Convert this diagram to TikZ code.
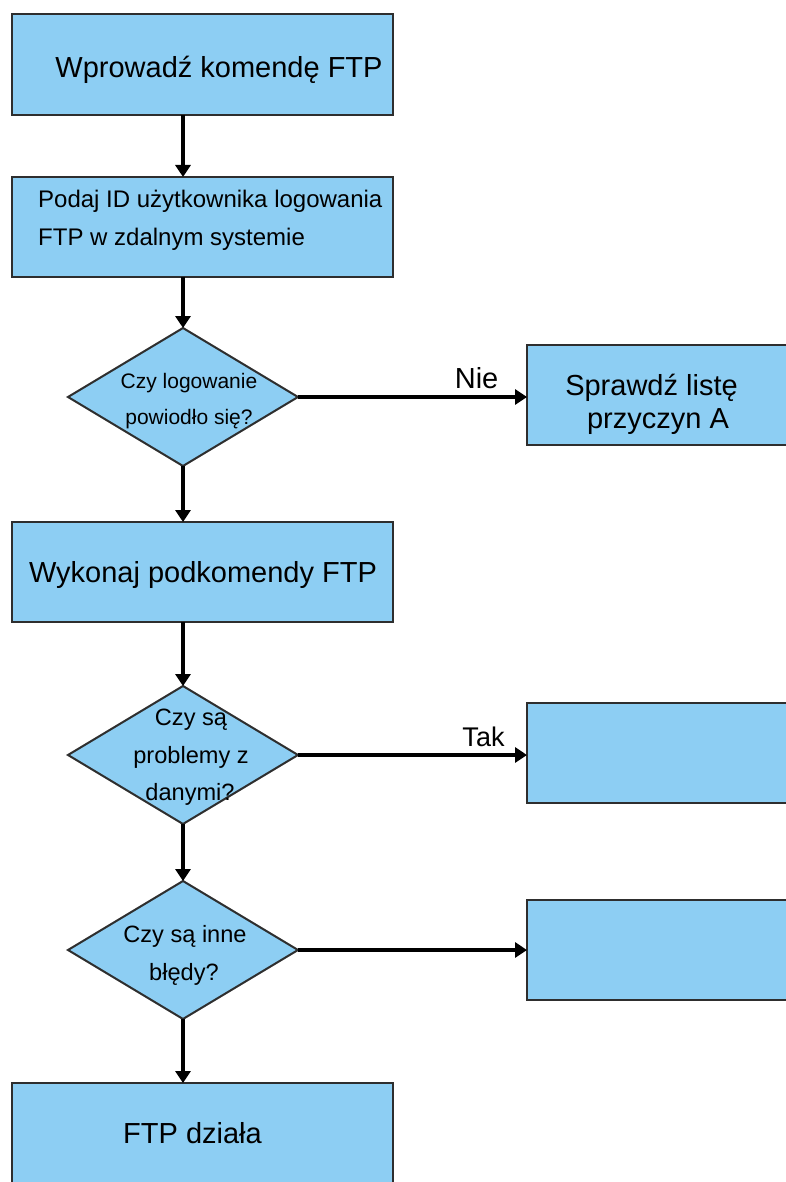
\documentclass[tikz,border=0pt]{standalone}
\usepackage{fontspec}
\setmainfont{Liberation Sans}
\usetikzlibrary{shapes.geometric,arrows.meta}
\definecolor{boxfill}{HTML}{8DCEF3}
\definecolor{boxline}{HTML}{2E2E2E}
\begin{document}
\begin{tikzpicture}[x=1pt,y=-1pt,
  box/.style={draw=boxline, line width=2pt, fill=boxfill, rectangle, inner sep=0pt, outer sep=0pt},
  dia/.style={draw=boxline, line width=2pt, fill=boxfill, diamond, inner sep=0pt, outer sep=0pt, minimum width=230pt, minimum height=138pt},
  arr/.style={line width=4.5pt, -{Triangle[length=12pt,width=15pt]}},
  big/.style={inner sep=0pt, anchor=base, font=\fontsize{29}{34}\selectfont},
  mid/.style={inner sep=0pt, anchor=base, font=\fontsize{23.6}{28}\selectfont},
  wide/.style={inner sep=0pt, anchor=base west, font=\fontsize{24}{28}\selectfont},
  sml/.style={inner sep=0pt, anchor=base, font=\fontsize{21}{25}\selectfont}]
\useasboundingbox (0,0) rectangle (786,1182);
% boxes
\node[box, minimum width=381pt, minimum height=101pt] (b1) at (202.5,64.5) {};
\node[box, minimum width=381pt, minimum height=100pt] (b2) at (202.5,227) {};
\node[dia] (d1) at (183,397) {};
\node[box, minimum width=273pt, minimum height=100pt] (r1) at (663.5,395) {};
\node[box, minimum width=381pt, minimum height=100pt] (b4) at (202.5,572) {};
\node[dia] (d2) at (183,755) {};
\node[box, minimum width=273pt, minimum height=100pt] (r2) at (663.5,753) {};
\node[dia] (d3) at (183,950) {};
\node[box, minimum width=273pt, minimum height=100pt] (r3) at (663.5,950) {};
\node[box, minimum width=381pt, minimum height=120pt] (b5) at (202.5,1143) {};
% texts
\node[big] (t1) at (219,78) {Wprowadź komendę FTP};
\node[wide] (t2a) at (38,208) {Podaj ID użytkownika logowania};
\node[wide] (t2b) at (38,245) {FTP w zdalnym systemie};
\node[sml] (t3a) at (189,388) {Czy logowanie};
\node[sml] (t3b) at (189,424) {powiodło się?};
\node[big] (tr1a) at (651.5,395) {Sprawdź listę};
\node[big] (tr1b) at (658,428) {przyczyn A};
\node[big] (t4) at (203,582) {Wykonaj podkomendy FTP};
\node[mid] (t5a) at (191,725) {Czy są};
\node[mid] (t5b) at (191,763) {problemy z};
\node[mid] (t5c) at (190,800) {danymi?};
\node[mid] (t6a) at (185,942) {Czy są inne};
\node[mid] (t6b) at (184,980) {błędy?};
\node[big] (t7) at (192.5,1143) {FTP działa};
% connectors
\draw[arr] (b1.south -| d1.north) -- (b2.north -| d1.north);
\draw[arr] (b2.south -| d1.north) -- (d1.north);
\draw[arr] (d1.south) -- (b4.north -| d1.south);
\draw[arr] (b4.south -| d2.north) -- (d2.north);
\draw[arr] (d2.south) -- (d3.north);
\draw[arr] (d3.south) -- (b5.north -| d3.south);
\draw[arr] (d1.east) -- (d1.east -| r1.west) node[pos=0.78, above=6pt, inner sep=0pt, font=\fontsize{29}{34}\selectfont] (nie) {Nie};
\draw[arr] (d2.east) -- (d2.east -| r2.west) node[pos=0.81, above=6pt, inner sep=0pt, font=\fontsize{27}{32}\selectfont] (tak) {Tak};
\draw[arr] (d3.east) -- (d3.east -| r3.west);
\end{tikzpicture}
\end{document}
